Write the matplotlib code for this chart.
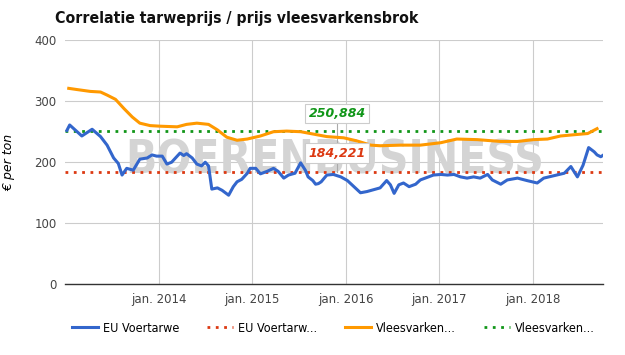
import matplotlib
matplotlib.use("Agg")
import matplotlib.pyplot as plt
from matplotlib import font_manager
from matplotlib.font_manager import FontProperties

# EU voertarwe (blue), decimal years
wheat_years = [2013.02, 2013.05, 2013.18, 2013.29, 2013.38, 2013.45, 2013.52, 2013.57,
               2013.61, 2013.66, 2013.73, 2013.80, 2013.88, 2013.93, 2013.98, 2014.04,
               2014.09, 2014.14, 2014.20, 2014.23, 2014.27, 2014.30, 2014.36, 2014.41,
               2014.46, 2014.50, 2014.535, 2014.57, 2014.63, 2014.68, 2014.75, 2014.80,
               2014.84, 2014.89, 2014.95, 2014.98, 2015.04, 2015.09, 2015.16, 2015.23,
               2015.28, 2015.34, 2015.39, 2015.46, 2015.52, 2015.57, 2015.60, 2015.65,
               2015.68, 2015.71, 2015.74, 2015.80, 2015.87, 2015.95, 2016.02, 2016.09,
               2016.16, 2016.23, 2016.30, 2016.37, 2016.44, 2016.48, 2016.52, 2016.57,
               2016.62, 2016.68, 2016.75, 2016.80, 2016.87, 2016.94, 2017.02, 2017.09,
               2017.16, 2017.23, 2017.30, 2017.37, 2017.44, 2017.52, 2017.57, 2017.66,
               2017.73, 2017.84, 2017.94, 2018.05, 2018.12, 2018.23, 2018.34, 2018.41,
               2018.48, 2018.54, 2018.60, 2018.66, 2018.69, 2018.73, 2018.76]
wheat_values = [252, 261, 243, 254, 242, 228, 207, 198,
                179, 190, 187, 205, 207, 212, 210, 210,
                197, 200, 210, 215, 211, 214, 207, 197,
                194, 200, 194, 156, 158, 154, 146, 160,
                168, 172, 182, 190, 190, 181, 185, 190,
                185, 174, 179, 182, 199, 187, 176, 170,
                164, 165, 168, 179, 180, 176, 170, 160,
                150, 152, 155, 158, 170, 163, 149, 163,
                166, 160, 164, 171, 175, 179, 180, 179,
                180, 176, 174, 176, 174, 180, 171, 164,
                171, 174, 170, 166, 174, 178, 182, 193,
                176, 195, 224, 217, 212, 209, 212]

# Vleesvarkensbrok (orange)
feed_years = [2013.04, 2013.13, 2013.27, 2013.38, 2013.45, 2013.54, 2013.63, 2013.72,
              2013.80, 2013.91, 2014.02, 2014.20, 2014.30, 2014.41, 2014.535, 2014.63,
              2014.73, 2014.84, 2014.95, 2015.09, 2015.23, 2015.37, 2015.52, 2015.66,
              2015.80, 2015.98, 2016.12, 2016.27, 2016.37, 2016.59, 2016.80, 2017.02,
              2017.19, 2017.41, 2017.66, 2017.84, 2018.01, 2018.16, 2018.30, 2018.44,
              2018.59, 2018.69]
feed_values = [321, 319, 316, 315, 310, 303, 288, 274,
               264, 260, 259, 258, 262, 264, 262, 253,
               241, 236, 238, 243, 250, 251, 250, 246,
               242, 240, 235, 228, 227, 228, 228, 232,
               238, 237, 234, 234, 237, 238, 243, 245,
               247, 255]

wheat_avg = 184.221
feed_avg = 250.884

year_ticks = [2014, 2015, 2016, 2017, 2018]
year_labels = ["jan. 2014", "jan. 2015", "jan. 2016", "jan. 2017", "jan. 2018"]
y_ticks = [0, 100, 200, 300, 400]


def find_font(name):
    for f in font_manager.fontManager.ttflist:
        if f.fname.endswith(name):
            return f.fname
    return None


cond_bold = find_font("DejaVuSansCondensed-Bold.ttf")
cond_reg = find_font("DejaVuSansCondensed.ttf")
if cond_bold:
    title_fp = FontProperties(fname=cond_bold, size=11.3)
    mark_fp = FontProperties(fname=cond_bold, size=33)
else:
    title_fp = FontProperties(family="DejaVu Sans", weight="bold", size=10)
    mark_fp = FontProperties(family="DejaVu Sans", weight="bold", size=28)
if cond_reg:
    legend_fp = FontProperties(fname=cond_reg, size=9)
else:
    legend_fp = FontProperties(family="DejaVu Sans", size=8)

BLUE = "#3366cc"
RED = "#dc3912"
ORANGE = "#ff9900"
GREEN = "#109618"

fig = plt.figure(figsize=(6.25, 3.55), dpi=100)
ax = fig.add_axes([0.104, 0.199, 0.861, 0.688])

x0, x1 = 2013.0, 2018.755
ax.set_xlim(x0, x1)
ax.set_ylim(0, 400)

# watermark
ax.text(2015.885, 202, "BOERENBUSINESS", fontproperties=mark_fp,
        color="#d4d4d4", ha="center", va="center", zorder=1)

ax.plot(wheat_years, wheat_values, color=BLUE, lw=2.2, zorder=4, label="EU Voertarwe")
ax.plot([x0, x1], [wheat_avg, wheat_avg], color=RED, lw=2.0,
        linestyle=(0, (1, 2)), zorder=3, label="EU Voertarw...")
ax.plot(feed_years, feed_values, color=ORANGE, lw=2.2, zorder=4, label="Vleesvarken...")
ax.plot([x0, x1], [feed_avg, feed_avg], color=GREEN, lw=2.0,
        linestyle=(0, (1, 2)), zorder=3, label="Vleesvarken...")

# annotation boxes with leader line
ax.plot([2015.91, 2015.91], [wheat_avg, 268], color="#aaaaaa", lw=0.8, zorder=2)
ax.text(2015.91, 280, "250,884", color=GREEN, fontsize=9, fontweight="bold",
        style="italic", ha="center", va="center", zorder=6,
        bbox=dict(boxstyle="square,pad=0.25", fc="white", ec="#cccccc", lw=0.8))
ax.text(2015.91, 215, "184,221", color=RED, fontsize=9, fontweight="bold",
        style="italic", ha="center", va="center", zorder=6,
        bbox=dict(boxstyle="square,pad=0.25", fc="white", ec="#cccccc", lw=0.8))

ax.set_xticks(year_ticks)
ax.set_xticklabels(year_labels)
ax.set_yticks(y_ticks)
ax.grid(True, color="#cccccc", lw=0.8)
ax.set_axisbelow(True)
for side in ["left", "right", "top"]:
    ax.spines[side].set_visible(False)
ax.spines["bottom"].set_color("#333333")
ax.spines["bottom"].set_linewidth(1.0)
ax.tick_params(length=0, labelsize=8.5, labelcolor="#444444", pad=6)
ax.set_ylabel("€ per ton", fontsize=9, style="italic", labelpad=14)

fig.text(0.088, 0.949, "Correlatie tarweprijs / prijs vleesvarkensbrok",
         fontproperties=title_fp, color="#111111", va="center")

fig.legend(loc="center left", bbox_to_anchor=(0.115, 0.076), ncol=4, frameon=False,
           prop=legend_fp, handlelength=2.1, columnspacing=2.2, handletextpad=0.4,
           borderpad=0, borderaxespad=0)

fig.savefig("out.png", dpi=100)
